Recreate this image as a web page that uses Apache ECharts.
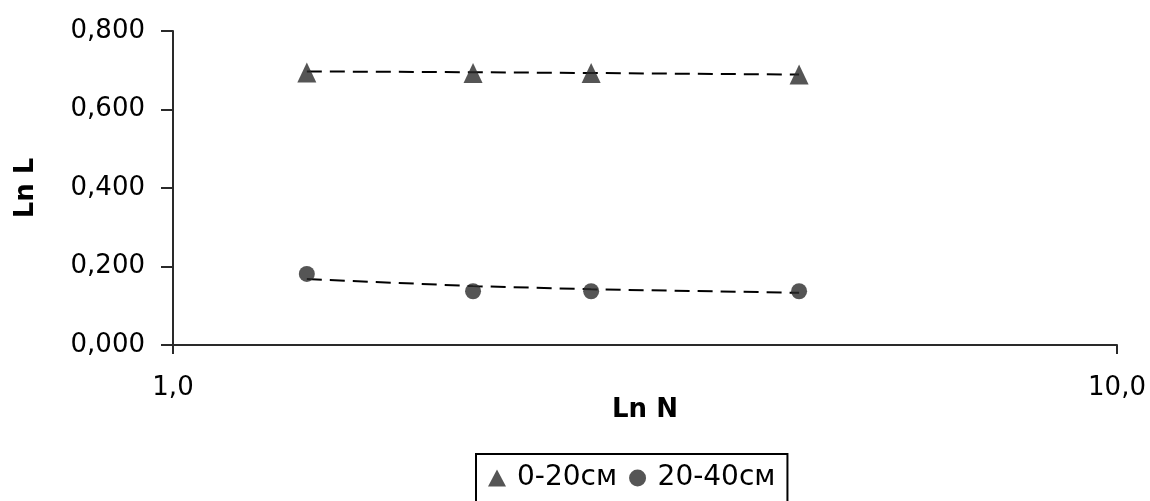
<!DOCTYPE html>
<html>
<head>
<meta charset="utf-8">
<script src="https://cdn.jsdelivr.net/npm/echarts@6/dist/echarts.min.js"></script>
<style>
html,body{margin:0;padding:0;background:#fff;}
#chart{width:1150px;height:501px;}
</style>
</head>
<body>
<div id="chart"></div>
<script>
// Data
const lnN = [1.386, 2.079, 2.773, 4.605];
const series020 = [0.694, 0.693, 0.693, 0.689];
const series2040 = [0.181, 0.137, 0.137, 0.137];
const trend020 = [0.697, 0.695, 0.693, 0.689];
const trend2040 = [0.168, 0.150, 0.142, 0.133];
const seriesNames = ['0-20см', '20-40см'];
const xAxisName = 'Ln N';
const yAxisName = 'Ln L';

const pair = (xs, ys) => xs.map((x, i) => [x, ys[i]]);
const FONT = 'DejaVu Sans';
const INK = '#2a2a2a';

const chart = echarts.init(document.getElementById('chart'), null, {renderer: 'canvas'});
chart.setOption({
  animation: false,
  backgroundColor: '#ffffff',
  grid: {left: 173, right: 33, top: 31, bottom: 156, containLabel: false},
  legend: {
    data: [
      {name: seriesNames[0], icon: 'triangle'},
      {name: seriesNames[1], icon: 'circle'}
    ],
    left: 476, top: 454,
    borderColor: '#000', borderWidth: 2, borderRadius: 0,
    padding: [10, 12, 14, 12],
    itemGap: 12, itemWidth: 18, itemHeight: 17,
    textStyle: {fontFamily: FONT, fontSize: 28, color: '#000', padding: [0, 0, 0, 6]}
  },
  xAxis: {
    type: 'log', logBase: 10, min: 1, max: 10,
    name: xAxisName, nameLocation: 'middle', nameGap: 52, nameMoveOverlap: false,
    nameTextStyle: {fontFamily: FONT, fontSize: 26, fontWeight: 'bold', color: '#000', verticalAlign: 'top'},
    axisLine: {show: true, lineStyle: {color: INK, width: 2}},
    axisTick: {show: true, length: 9, inside: false, lineStyle: {color: INK, width: 2}},
    minorTick: {show: false},
    splitLine: {show: false},
    axisLabel: {fontFamily: FONT, fontSize: 26, color: '#000', margin: 30,
      formatter: v => v.toFixed(1).replace('.', ',')}
  },
  yAxis: {
    type: 'value', min: 0, max: 0.8, interval: 0.2,
    name: yAxisName, nameLocation: 'middle', nameGap: 134, nameRotate: 90, nameMoveOverlap: false,
    nameTextStyle: {fontFamily: FONT, fontSize: 26, fontWeight: 'bold', color: '#000'},
    axisLine: {show: true, lineStyle: {color: INK, width: 2}},
    axisTick: {show: true, length: 12, inside: false, lineStyle: {color: INK, width: 2}},
    splitLine: {show: false},
    axisLabel: {fontFamily: FONT, fontSize: 26, color: '#000', margin: 28,
      formatter: v => v.toFixed(3).replace('.', ',')}
  },
  series: [
    {
      name: 'trend1', type: 'line', data: pair(lnN, trend020),
      symbol: 'none', silent: true, z: 1,
      lineStyle: {color: '#000', width: 2, type: [15, 8]}
    },
    {
      name: 'trend2', type: 'line', data: pair(lnN, trend2040),
      symbol: 'none', silent: true, z: 1,
      lineStyle: {color: '#000', width: 2, type: [15, 8]}
    },
    {
      name: seriesNames[0], type: 'scatter', data: pair(lnN, series020),
      symbol: 'triangle', symbolSize: [19, 20], z: 3,
      itemStyle: {color: INK}
    },
    {
      name: seriesNames[1], type: 'scatter', data: pair(lnN, series2040),
      symbol: 'circle', symbolSize: 16, z: 3,
      itemStyle: {color: INK}
    }
  ]
});
</script>
</body>
</html>
